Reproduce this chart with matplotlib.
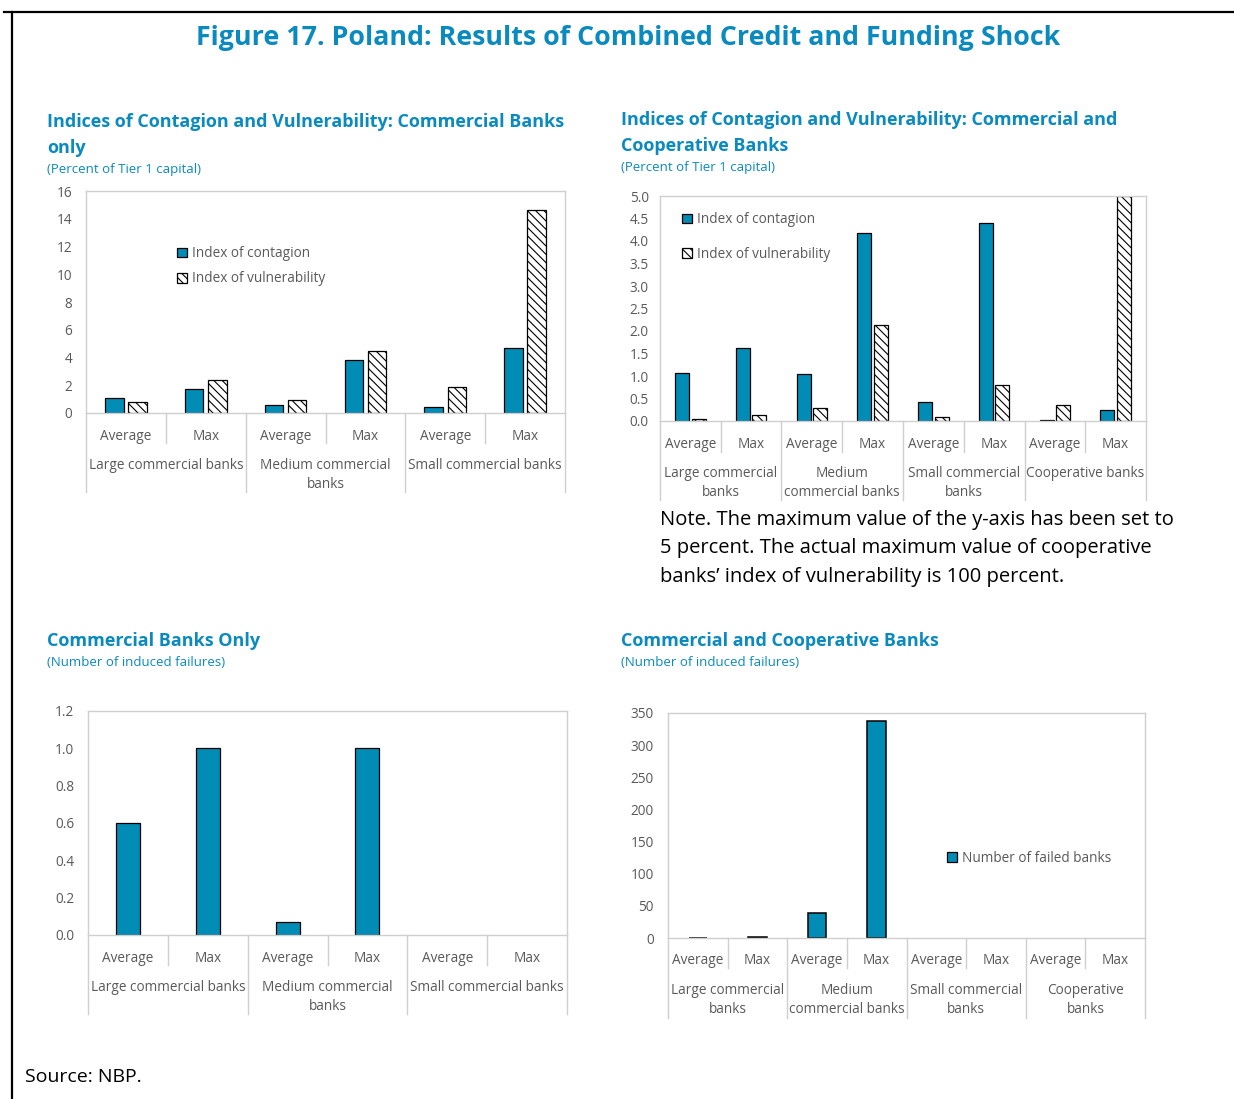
import matplotlib
matplotlib.use("Agg")
import matplotlib.pyplot as plt
import matplotlib.transforms as mtransforms
from matplotlib.lines import Line2D

plt.rcParams['font.family'] = ['Open Sans', 'DejaVu Sans']
plt.rcParams['hatch.linewidth'] = 0.8

W, H = 1234, 1099
DPI = 100

# ---------------- data ----------------
sub_labels = ["Average", "Max"]

groups1 = ["Large commercial banks", "Medium commercial\nbanks", "Small commercial banks"]
contagion1 = [1.1, 1.75, 0.6, 3.85, 0.45, 4.7]
vulnerability1 = [0.8, 2.35, 0.95, 4.5, 1.85, 14.6]

groups2 = ["Large commercial\nbanks", "Medium\ncommercial banks", "Small commercial\nbanks", "Cooperative banks"]
contagion2 = [1.07, 1.63, 1.04, 4.18, 0.42, 4.4, 0.02, 0.25]
vulnerability2 = [0.04, 0.13, 0.30, 2.13, 0.10, 0.81, 0.35, 5.0]  # last value capped at axis max (actual 100)

groups3 = ["Large commercial banks", "Medium commercial\nbanks", "Small commercial banks"]
failures3 = [0.6, 1.0, 0.07, 1.0, 0.0, 0.0]

groups4 = ["Large commercial\nbanks", "Medium\ncommercial banks", "Small commercial\nbanks", "Cooperative\nbanks"]
failures4 = [0.6, 1.0, 39, 338, 0, 0, 0, 0]

yticks1 = [0, 2, 4, 6, 8, 10, 12, 14, 16]
yticks2 = [0.0, 0.5, 1.0, 1.5, 2.0, 2.5, 3.0, 3.5, 4.0, 4.5, 5.0]
yticks3 = [0.0, 0.2, 0.4, 0.6, 0.8, 1.0, 1.2]
yticks4 = [0, 50, 100, 150, 200, 250, 300, 350]

# ---------------- style ----------------
BLUE = "#008CB4"
TITLE_BLUE = "#0A8ABF"
GRAY_TXT = "#595959"
FRAME = "#cfcfcf"
TICK_FS = 9.8

fig = plt.figure(figsize=(W / DPI, H / DPI), dpi=DPI)
fig.patch.set_facecolor("white")


def fy(py):
    return 1 - py / H


def fx(px):
    return px / W


# outer border (top and left)
fig.add_artist(Line2D([fx(4), 1.0], [fy(12), fy(12)], color="black", lw=1.6, transform=fig.transFigure))
fig.add_artist(Line2D([fx(12), fx(12)], [fy(12), 0.0], color="black", lw=1.6, transform=fig.transFigure))

fig.text(fx(628), fy(38), "Figure 17. Poland: Results of Combined Credit and Funding Shock",
         ha="center", va="center", fontsize=19.3, fontweight="bold", color=TITLE_BLUE)


def make_axes(left, right, top, zero):
    ax = fig.add_axes([fx(left), fy(zero), (right - left) / W, (zero - top) / H])
    for s in ax.spines.values():
        s.set_color(FRAME)
        s.set_linewidth(1.0)
    ax.tick_params(axis="both", length=0, colors=GRAY_TXT, labelsize=TICK_FS)
    ax.set_xticks([])
    return ax


def category_axis(ax, groups, n, zero, sub_y, grp_y, minor_bot, major_bot):
    trans = mtransforms.blended_transform_factory(ax.transData, fig.transFigure)
    for i in range(n):
        ax.text(i + 0.5, fy(sub_y), sub_labels[i % 2], ha="center", va="center",
                fontsize=TICK_FS, color=GRAY_TXT, transform=trans)
    for g, name in enumerate(groups):
        ax.text(2 * g + 1, fy(grp_y), name, ha="center", va="top", fontsize=TICK_FS,
                color=GRAY_TXT, transform=trans, linespacing=1.38)
    for i in range(n + 1):
        bot = major_bot if i % 2 == 0 else minor_bot
        ax.add_artist(Line2D([i, i], [fy(zero), fy(bot)], color=FRAME, lw=1.0,
                             transform=trans, clip_on=False))


def panel_title(x, y, lines, sub, sub_y):
    for k, t in enumerate(lines):
        fig.text(fx(x), fy(y + 26 * k), t, ha="left", va="center", fontsize=13,
                 fontweight="bold", color=TITLE_BLUE)
    fig.text(fx(x), fy(sub_y), sub, ha="left", va="center", fontsize=9.5, color=TITLE_BLUE)


def edge_for(vals):
    return ["black" if v > 0 else "none" for v in vals]


# ---------------- panel 1 ----------------
panel_title(47, 122, ["Indices of Contagion and Vulnerability: Commercial Banks", "only"],
            "(Percent of Tier 1 capital)", 170)
ax1 = make_axes(86, 565, 191, 413)
n1 = len(contagion1)
x1 = [i + 0.5 for i in range(n1)]
w1 = 0.23
ax1.bar([x - 0.145 for x in x1], contagion1, width=w1, color=BLUE, edgecolor="black", lw=0.9,
        label="Index of contagion")
ax1.bar([x + 0.145 for x in x1], vulnerability1, width=w1, color="white", edgecolor="black",
        hatch="\\\\\\\\", lw=0.9, label="Index of vulnerability")
ax1.set_xlim(0, n1)
ax1.set_ylim(0, 16)
ax1.set_yticks(yticks1)
ax1.set_yticklabels([f"{v:d}" for v in yticks1])
ax1.tick_params(axis="y", pad=10)
category_axis(ax1, groups1, n1, 413, 436, 458, 443, 492)
ax1.legend(loc="upper left", bbox_to_anchor=(fx(165), fy(234)), bbox_transform=fig.transFigure,
           frameon=False, fontsize=TICK_FS, handlelength=0.75, handleheight=0.75,
           handletextpad=0.3, labelspacing=0.75, labelcolor=GRAY_TXT)

# ---------------- panel 2 ----------------
panel_title(621, 120, ["Indices of Contagion and Vulnerability: Commercial and", "Cooperative Banks"],
            "(Percent of Tier 1 capital)", 168)
ax2 = make_axes(660, 1146, 196, 421)
n2 = len(contagion2)
x2 = [i + 0.5 for i in range(n2)]
w2 = 0.23
ax2.bar([x - 0.135 for x in x2], contagion2, width=w2, color=BLUE, edgecolor="black", lw=0.9,
        label="Index of contagion")
ax2.bar([x + 0.135 for x in x2], vulnerability2, width=w2, color="white", edgecolor="black",
        hatch="\\\\\\\\", lw=0.9, label="Index of vulnerability")
ax2.set_xlim(0, n2)
ax2.set_ylim(0, 5)
ax2.set_yticks(yticks2)
ax2.set_yticklabels([f"{v:.1f}" for v in yticks2])
ax2.tick_params(axis="y", pad=8)
category_axis(ax2, groups2, n2, 421, 444, 466, 452, 500)
ax2.legend(loc="upper left", bbox_to_anchor=(fx(670), fy(200)), bbox_transform=fig.transFigure,
           frameon=False, fontsize=TICK_FS, handlelength=0.75, handleheight=0.75,
           handletextpad=0.3, labelspacing=1.45, labelcolor=GRAY_TXT)

fig.text(fx(660), fy(510), "Note. The maximum value of the y-axis has been set to\n"
         "5 percent. The actual maximum value of cooperative\n"
         "banks\u2019 index of vulnerability is 100 percent.",
         ha="left", va="top", fontsize=14.5, color="black", linespacing=1.56)

# ---------------- panel 3 ----------------
panel_title(47, 641, ["Commercial Banks Only"], "(Number of induced failures)", 662)
ax3 = make_axes(88, 567, 711, 935)
n3 = len(failures3)
x3 = [i + 0.5 for i in range(n3)]
ax3.bar(x3, failures3, width=0.3, color=BLUE, edgecolor=edge_for(failures3), lw=0.9)
ax3.set_xlim(0, n3)
ax3.set_ylim(0, 1.2)
ax3.set_yticks(yticks3)
ax3.set_yticklabels([f"{v:.1f}" for v in yticks3])
ax3.tick_params(axis="y", pad=10)
category_axis(ax3, groups3, n3, 935, 958, 980, 965, 1014)

# ---------------- panel 4 ----------------
panel_title(621, 641, ["Commercial and Cooperative Banks"], "(Number of induced failures)", 663)
ax4 = make_axes(668, 1145, 713, 938)
n4 = len(failures4)
x4 = [i + 0.5 for i in range(n4)]
ax4.bar(x4, failures4, width=0.31, color=BLUE, edgecolor=edge_for(failures4), lw=1.1,
        label="Number of failed banks")
ax4.set_xlim(0, n4)
ax4.set_ylim(0, 350)
ax4.set_yticks(yticks4)
ax4.set_yticklabels([f"{v:d}" for v in yticks4])
ax4.tick_params(axis="y", pad=10)
category_axis(ax4, groups4, n4, 938, 961, 983, 968, 1018)
leg4 = ax4.legend(loc="center left", bbox_to_anchor=(fx(935), fy(858)), bbox_transform=fig.transFigure,
                  frameon=False, fontsize=TICK_FS, handlelength=0.75, handleheight=0.75,
                  handletextpad=0.3, labelcolor=GRAY_TXT)
for p in leg4.get_patches():
    p.set_edgecolor("black")
    p.set_linewidth(0.9)

fig.text(fx(25), fy(1077), "Source: NBP.", ha="left", va="center", fontsize=14, color="black")

fig.savefig("out.png", dpi=DPI)
